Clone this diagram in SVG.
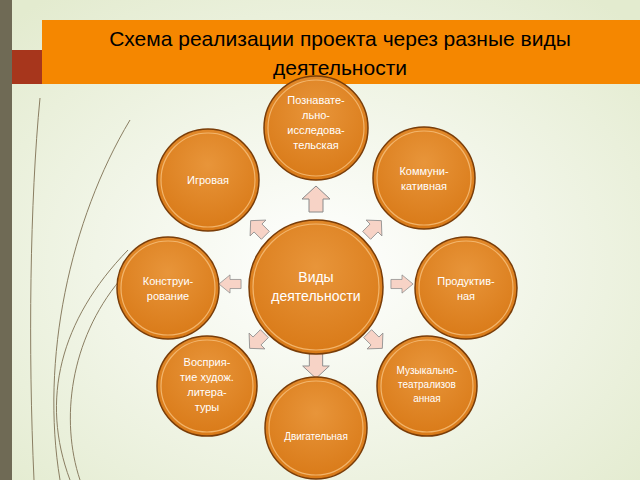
<svg xmlns="http://www.w3.org/2000/svg" width="640" height="480" viewBox="0 0 640 480">
<defs>
<radialGradient id="bg" cx="0.5" cy="0.55" r="0.7"><stop offset="0" stop-color="#ffffff"/><stop offset="1" stop-color="#e3ebcf"/></radialGradient>
<radialGradient id="ball" cx="0.5" cy="0.35" r="0.65"><stop offset="0" stop-color="#e8953a"/><stop offset="1" stop-color="#d97a18"/></radialGradient>
<path id="arr" d="M0,-13 L14,0 L7,0 L7,13 L-7,13 L-7,0 L-14,0 Z"/>
</defs>
<style>
.n{fill:url(#ball);stroke:#7a3d08;stroke-width:1.5}
.ring{fill:none;stroke:#f7c27e;stroke-width:1.2;opacity:0.8}
.t{font-family:"Liberation Sans",Arial,sans-serif;font-size:11px;fill:#fff;text-anchor:middle}
.big{font-size:14px}
.sm{font-size:10px}
.a{fill:#f7d3c6;stroke:#8a8a8a;stroke-width:1}
.d{fill:none;stroke:#8a7e62;stroke-width:1}
.h{font-family:"Liberation Sans",Arial,sans-serif;font-size:21px;fill:#000;text-anchor:middle}
</style>
<rect width="640" height="480" fill="url(#bg)"/>
<rect x="0" y="0" width="12" height="480" fill="#6f6a55"/>
<path class="d" d="M40,98 C30,200 28,350 34,480"/>
<path class="d" d="M130,120 C70,220 40,360 60,480"/>
<path class="d" d="M128,250 C60,320 40,400 70,480" stroke-width="1.5"/>
<path class="d" d="M120,280 C70,340 60,420 80,480"/>
<rect x="12" y="50" width="34" height="34" fill="#a7361c"/>
<rect x="42" y="20" width="598" height="64" fill="#f58700"/>
<text class="h" x="340" y="46">Схема реализации проекта через разные виды</text>
<text class="h" x="340" y="75">деятельности</text>
<g id="connectors">
<use href="#arr" class="a" transform="translate(316,199)"/>
<use href="#arr" class="a" transform="translate(258,228) rotate(-45) scale(0.8)"/>
<use href="#arr" class="a" transform="translate(374,228) rotate(45) scale(0.8)"/>
<use href="#arr" class="a" transform="translate(230,284) rotate(-90) scale(0.65,0.85)"/>
<use href="#arr" class="a" transform="translate(402,284) rotate(90) scale(0.65,0.85)"/>
<use href="#arr" class="a" transform="translate(257,341) rotate(-135) scale(0.8)"/>
<use href="#arr" class="a" transform="translate(375,341) rotate(135) scale(0.8)"/>
<use href="#arr" class="a" transform="translate(316,366) rotate(180) scale(0.95)"/>
</g>
<g id="center"><circle class="n" cx="316" cy="287" r="67"/><circle class="ring" cx="316" cy="287" r="63"/><text class="t big" x="316" y="282">Виды</text><text class="t big" x="316" y="301">деятельности</text></g>
<g id="n1"><circle class="n" cx="316" cy="128" r="52"/><circle class="ring" cx="316" cy="128" r="48"/><text class="t" x="316" y="104">Познавате-</text><text class="t" x="316" y="119">льно-</text><text class="t" x="316" y="134">исследова-</text><text class="t" x="316" y="149">тельская</text></g>
<g id="n2"><circle class="n" cx="208" cy="180" r="51"/><circle class="ring" cx="208" cy="180" r="47"/><text class="t" x="208" y="184">Игровая</text></g>
<g id="n3"><circle class="n" cx="424" cy="178" r="51"/><circle class="ring" cx="424" cy="178" r="47"/><text class="t" x="424" y="175">Коммуни-</text><text class="t" x="424" y="190">кативная</text></g>
<g id="n4"><circle class="n" cx="168" cy="288" r="51"/><circle class="ring" cx="168" cy="288" r="47"/><text class="t" x="168" y="285">Конструи-</text><text class="t" x="168" y="300">рование</text></g>
<g id="n5"><circle class="n" cx="466" cy="288" r="51"/><circle class="ring" cx="466" cy="288" r="47"/><text class="t" x="466" y="285">Продуктив-</text><text class="t" x="466" y="300">ная</text></g>
<g id="n6"><circle class="n" cx="207" cy="386" r="50"/><circle class="ring" cx="207" cy="386" r="46"/><text class="t" x="207" y="366">Восприя-</text><text class="t" x="207" y="381">тие худож.</text><text class="t" x="207" y="396">литера-</text><text class="t" x="207" y="411">туры</text></g>
<g id="n7"><circle class="n" cx="316" cy="428" r="51"/><circle class="ring" cx="316" cy="428" r="47"/><text class="t sm" x="316" y="440">Двигательная</text></g>
<g id="n8"><circle class="n" cx="427" cy="386" r="50"/><circle class="ring" cx="427" cy="386" r="46"/><text class="t sm" x="427" y="374">Музыкально-</text><text class="t sm" x="427" y="388">театрализов</text><text class="t sm" x="427" y="402">анная</text></g>
</svg>
